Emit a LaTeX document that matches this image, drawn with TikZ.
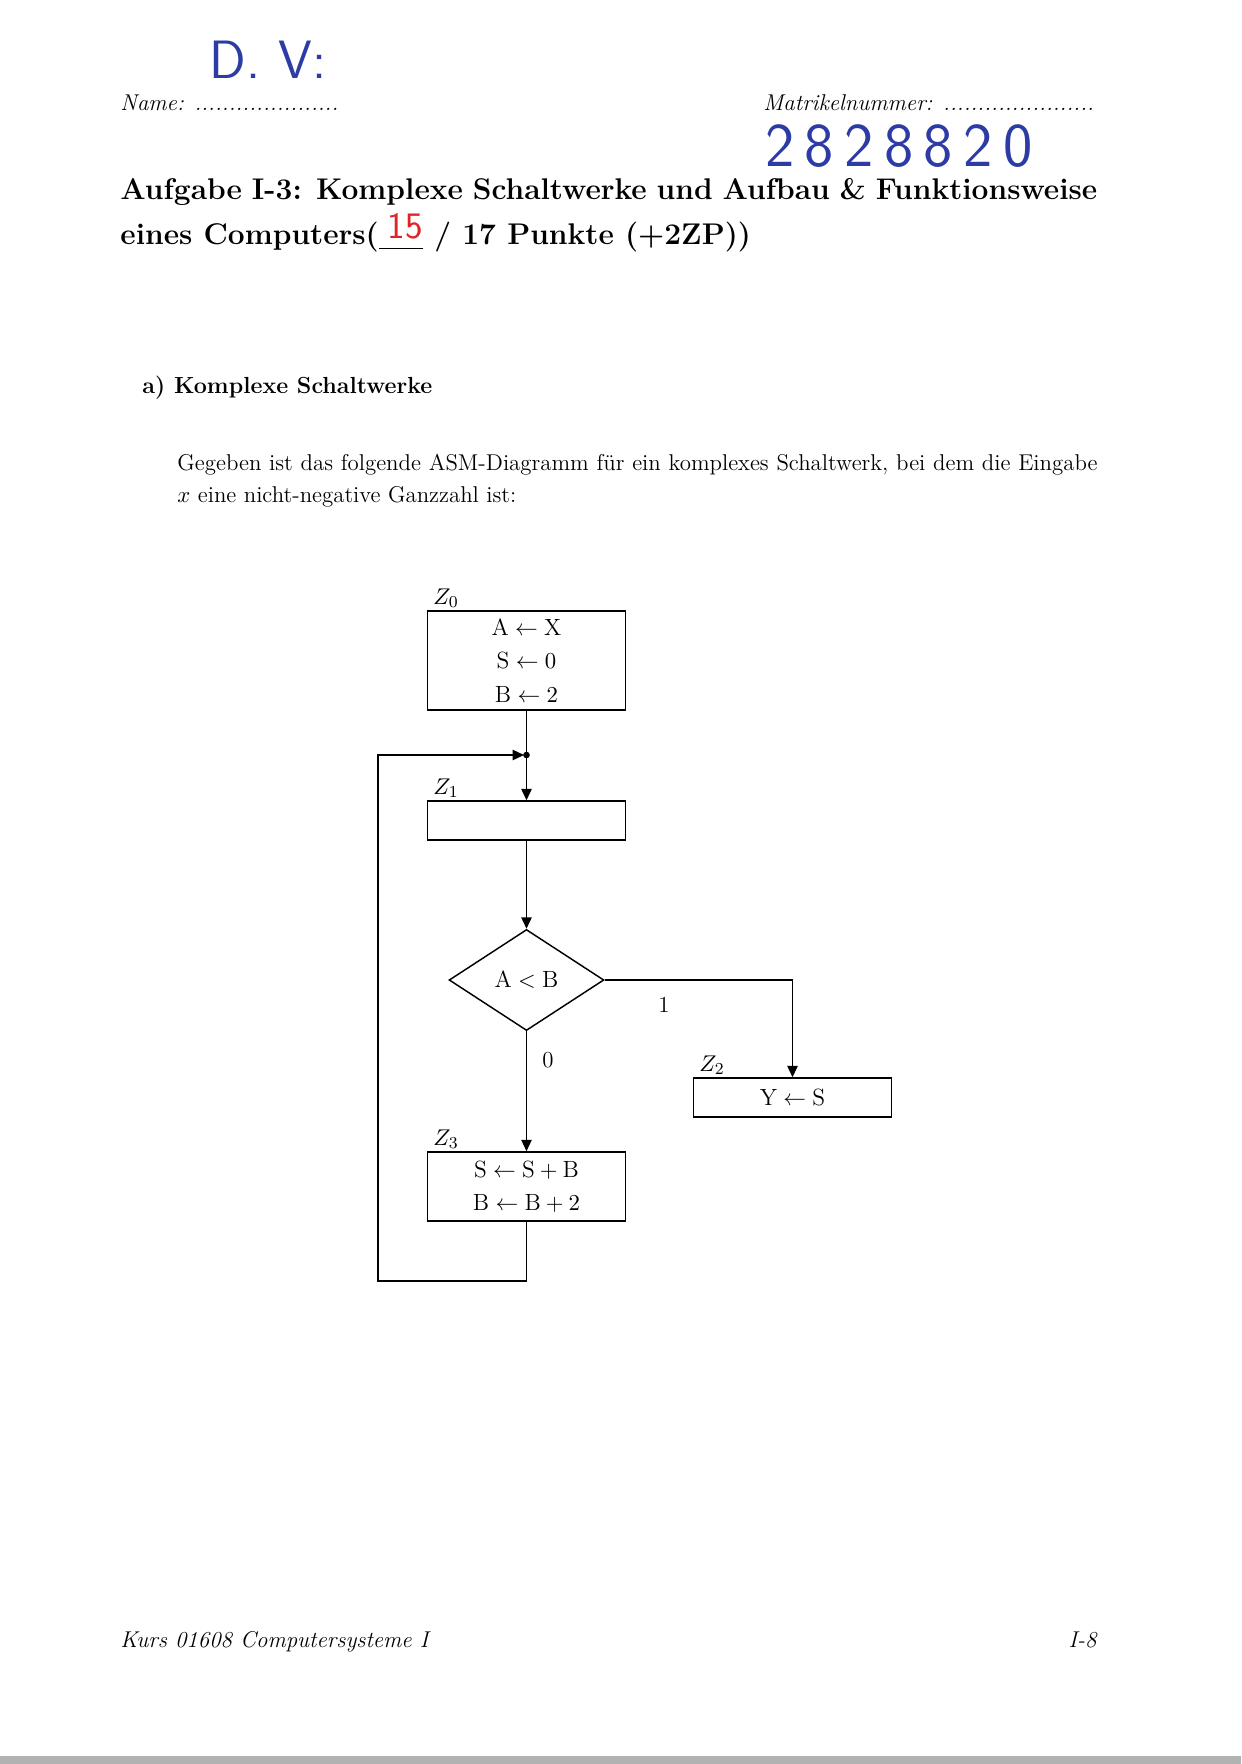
\documentclass[tikz,border=0pt]{standalone}
\usepackage{fontspec}
\usepackage{amsmath,amssymb}
\usetikzlibrary{positioning,arrows.meta,shapes.geometric,calc}
\definecolor{penblue}{RGB}{45,60,165}
\definecolor{penred}{RGB}{225,35,35}
\newcommand{\dotline}[1]{\makebox[#1]{\leaders\hbox{.}\hfill}}

\begin{document}
\begin{tikzpicture}[
    x=0.016922cm, y=-0.016922cm,
    every node/.style={font=\fontsize{11}{13.6}\selectfont},
    textline/.style={anchor=base west, inner sep=0pt},
    state/.style={draw, line width=0.7pt, minimum width=3.35cm, inner sep=2pt,
        align=center, font=\fontsize{11.3}{16}\selectfont},
    cond/.style={draw, diamond, line width=0.7pt, minimum width=2.62cm,
        minimum height=1.71cm, inner sep=0pt, font=\fontsize{11.3}{14}\selectfont},
    flow/.style={-{Triangle[length=5.5pt,width=5pt]}, line width=0.7pt},
    zlabel/.style={above right, xshift=2pt, inner sep=1pt},
    hand/.style={text=penblue, inner sep=0pt, font=\fontsize{28}{28}\selectfont\sffamily}
]
% page
\fill[white] (0,0) rectangle (1241,1764);
\useasboundingbox (0,0) rectangle (1241,1764);
\fill[black!30] (0,1756) rectangle (1241,1764);

% header
\node[textline, font=\fontsize{11}{13}\selectfont\itshape] (name) at (120,110)
    {Name: \dotline{2.52cm}};
\node[textline, font=\fontsize{11}{13}\selectfont\itshape] (matr) at (763,110)
    {Matrikelnummer: \dotline{2.57cm}};
\node[hand, font=\fontsize{26}{26}\selectfont\sffamily] (hname) at (268,60) {D.\,\,V:};
\node[hand, font=\fontsize{30}{30}\selectfont\sffamily] (hmatr) at (899,146)
    {2\,8\,2\,8\,8\,2\,0};

\node[textline, font=\fontsize{14.4}{17}\selectfont\bfseries] (title1) at (120,199)
    {\makebox[16.53cm][s]{Aufgabe I-3: Komplexe Schaltwerke und Aufbau \& Funktionsweise}};
\node[textline, font=\fontsize{14.4}{17}\selectfont\bfseries] (title2) at (120,244)
    {eines Computers(\underline{\hspace{0.75cm}} / 17 Punkte (+2ZP))};
\node[text=penred, inner sep=0pt, font=\fontsize{18}{18}\selectfont\sffamily] (points) at (405,226) {15};

% part a
\node[textline, font=\fontsize{11.2}{13.6}\selectfont\bfseries] (part) at (142,393) {a)\ Komplexe Schaltwerke};
\node[textline] (intro1) at (177,470)
    {\makebox[15.57cm][s]{Gegeben ist das folgende ASM-Diagramm für ein komplexes Schaltwerk, bei dem die Eingabe}};
\node[textline] (intro2) at (177,502) {$x$ eine nicht-negative Ganzzahl ist:};

% ASM diagram
\node[state, minimum height=1.675cm] (z0) at (526.5,660.5)
    {$\mathrm{A}\leftarrow\mathrm{X}$\\ $\mathrm{S}\leftarrow 0$\\ $\mathrm{B}\leftarrow 2$};
\node[state, minimum height=0.66cm] (z1) at (526.5,820.5) {};
\node[cond] (test) at (526.5,980) {$\mathrm{A}<\mathrm{B}$};
\node[state, minimum height=0.66cm] (z2) at (792.5,1097.5) {$\mathrm{Y}\leftarrow\mathrm{S}$};
\node[state, minimum height=1.17cm] (z3) at (526.5,1186.5)
    {$\mathrm{S}\leftarrow\mathrm{S}+\mathrm{B}$\\ $\mathrm{B}\leftarrow\mathrm{B}+2$};

\node[zlabel] at (z0.north west) {$Z_0$};
\node[zlabel] at (z1.north west) {$Z_1$};
\node[zlabel] at (z2.north west) {$Z_2$};
\node[zlabel] at (z3.north west) {$Z_3$};

\coordinate (merge) at (526.5,755);
\coordinate (loopbot) at (378,1281);

\draw[flow] (z0) -- (z1);
\fill (merge) circle (1.6pt);
\draw[flow, shorten >=1.2pt] (z3.south) |- (loopbot) |- (merge);
\draw[flow] (z1) -- (test);
\draw[flow] (test.east) -| (z2.north);
\draw[flow] (test) -- (z3);

\node (one) at (664,1005) {1};
\node (zero) at (548,1060) {0};

% footer
\node[textline, font=\fontsize{11}{13}\selectfont\itshape] (course) at (120,1647)
    {Kurs 01608 Computersysteme I};
\node[anchor=base east, inner sep=0pt, font=\fontsize{11}{13}\selectfont\itshape] (page) at (1097,1647) {I-8};
\end{tikzpicture}
\end{document}
